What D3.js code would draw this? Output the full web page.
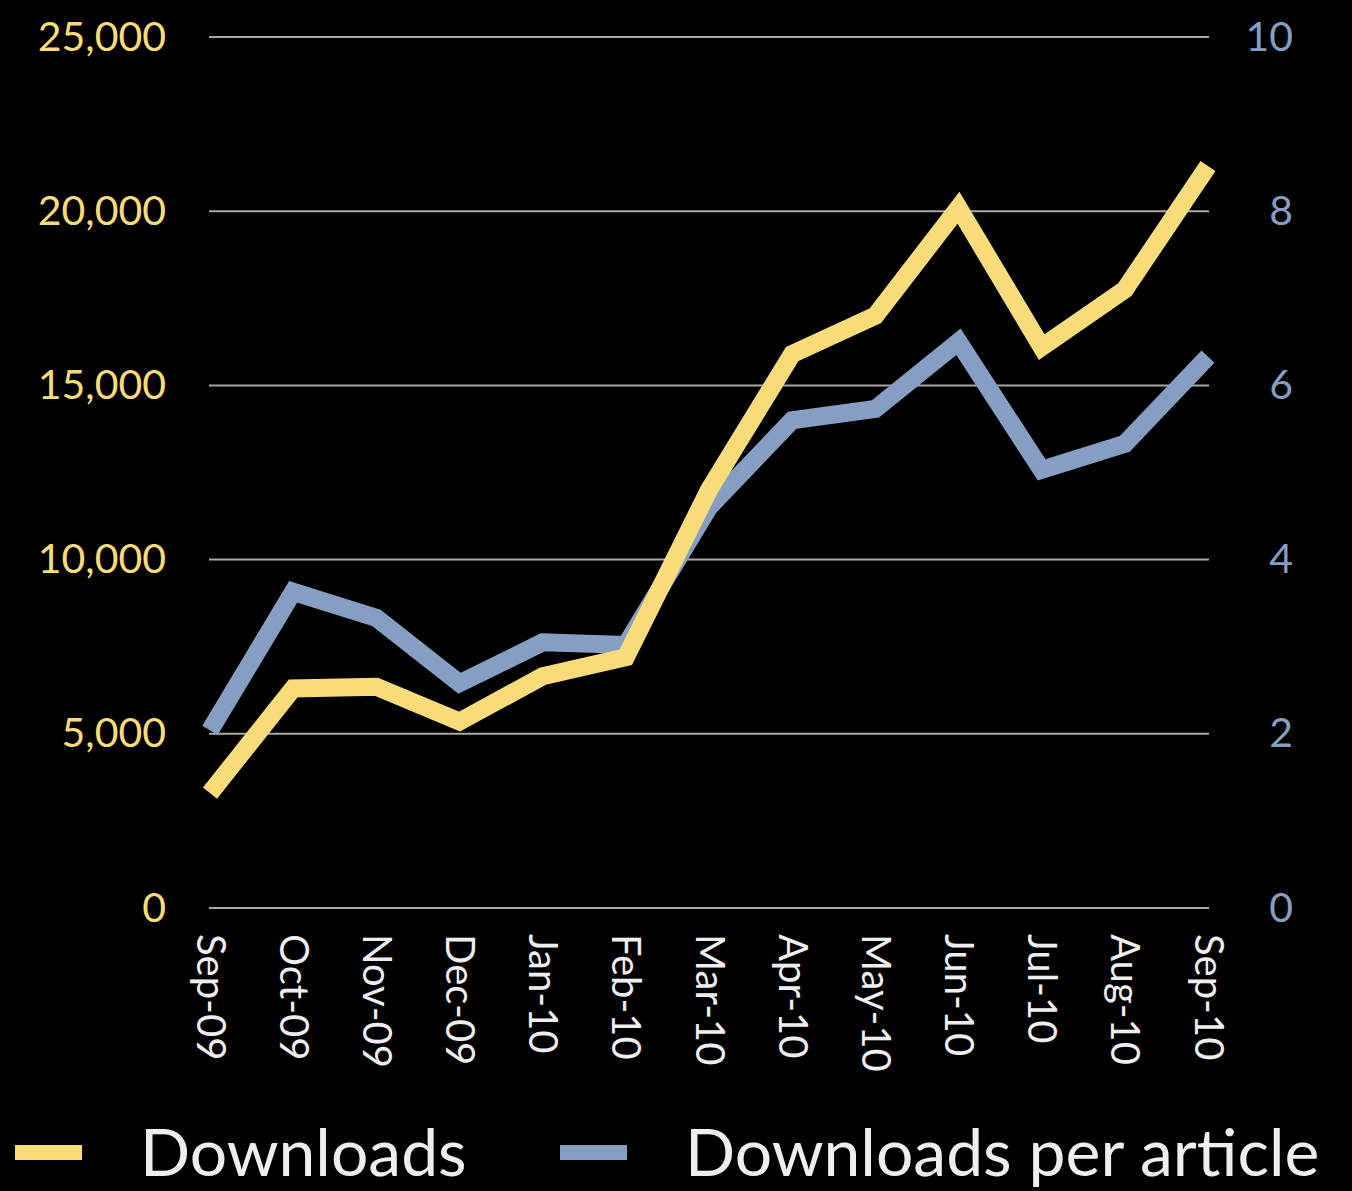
<!DOCTYPE html>
<html>
<head>
<meta charset="utf-8">
<script src="https://cdn.jsdelivr.net/npm/d3@7"></script>
<style>
  html, body { margin: 0; padding: 0; background: #000; }
  svg { display: block; }
</style>
</head>
<body>
<script>
// Monthly downloads and downloads per article, Sep 2009 – Sep 2010
const months = ["Sep-09", "Oct-09", "Nov-09", "Dec-09", "Jan-10", "Feb-10", "Mar-10",
                "Apr-10", "May-10", "Jun-10", "Jul-10", "Aug-10", "Sep-10"];
const downloads = [3300, 6300, 6350, 5350, 6650, 7200, 12000, 15900, 17000, 20100, 16100, 17750, 21300];
const perArticle = [2.04, 3.63, 3.33, 2.58, 3.05, 3.02, 4.6, 5.6, 5.73, 6.5, 5.03, 5.33, 6.33];
const leftTicks = [0, 5000, 10000, 15000, 20000, 25000];
const rightTicks = [0, 2, 4, 6, 8, 10];
const seriesNames = ["Downloads", "Downloads per article"];

const W = 1352, H = 1191;
const YELLOW = "#F9DC7A", BLUE = "#869EC2", TEXT = "#EEEEEE", GRID = "#A8A8A8";
const FONT = "Lato, 'Open Sans', sans-serif";

const svg = d3.select("body").append("svg")
  .attr("width", W).attr("height", H)
  .style("background", "#000");

const x = d3.scalePoint().domain(months).range([210, 1208]);
const yL = d3.scaleLinear().domain([0, 25000]).range([908, 37]);
const yR = d3.scaleLinear().domain([0, 10]).range([908, 37]);

// horizontal gridlines
svg.append("g").selectAll("line").data(leftTicks).join("line")
  .attr("x1", 209).attr("x2", 1209)
  .attr("y1", d => yL(d)).attr("y2", d => yL(d))
  .attr("stroke", GRID).attr("stroke-width", 2);

// left axis (downloads)
const leftAxis = svg.append("g")
  .attr("transform", "translate(166,0)")
  .call(d3.axisLeft(yL).tickValues(leftTicks).tickSize(0).tickPadding(0)
        .tickFormat(d3.format(",")));
leftAxis.select(".domain").remove();
leftAxis.selectAll("text")
  .attr("fill", YELLOW).style("font-family", FONT).style("font-size", "41px");

// right axis (per article)
const rightAxis = svg.append("g")
  .attr("transform", "translate(1293,0)")
  .call(d3.axisRight(yR).tickValues(rightTicks).tickSize(0).tickPadding(0)
        .tickFormat(d3.format("d")));
rightAxis.select(".domain").remove();
rightAxis.selectAll("text")
  .attr("text-anchor", "end")
  .attr("fill", BLUE).style("font-family", FONT).style("font-size", "41px");

// category axis with vertical labels
const bottomAxis = svg.append("g")
  .attr("transform", "translate(0,934)")
  .call(d3.axisBottom(x).tickSize(0).tickPadding(0));
bottomAxis.select(".domain").remove();
bottomAxis.selectAll("text")
  .attr("transform", "rotate(90)")
  .attr("x", 0).attr("y", 0).attr("dy", "0.35em")
  .attr("text-anchor", "start")
  .attr("fill", TEXT).style("font-family", FONT).style("font-size", "40px");

// series lines
const lineL = d3.line().x((d, i) => x(months[i])).y(d => yL(d));
const lineR = d3.line().x((d, i) => x(months[i])).y(d => yR(d));

svg.append("path").datum(perArticle)
  .attr("d", lineR).attr("fill", "none")
  .attr("stroke", BLUE).attr("stroke-width", 18)
  .attr("stroke-linejoin", "miter").attr("stroke-linecap", "butt");

svg.append("path").datum(downloads)
  .attr("d", lineL).attr("fill", "none")
  .attr("stroke", YELLOW).attr("stroke-width", 18)
  .attr("stroke-linejoin", "miter").attr("stroke-linecap", "butt");

// legend
const legend = [
  { name: seriesNames[0], color: YELLOW, sx: 15, tx: 140 },
  { name: seriesNames[1], color: BLUE, sx: 560, tx: 685 }
];
const lg = svg.append("g");
lg.selectAll("rect").data(legend).join("rect")
  .attr("x", d => d.sx).attr("y", 1145).attr("width", 67).attr("height", 15)
  .attr("fill", d => d.color);
lg.selectAll("text").data(legend).join("text")
  .attr("x", d => d.tx).attr("y", 1176)
  .attr("fill", TEXT).style("font-family", FONT).style("font-size", "66px")
  .text(d => d.name);
</script>
</body>
</html>
